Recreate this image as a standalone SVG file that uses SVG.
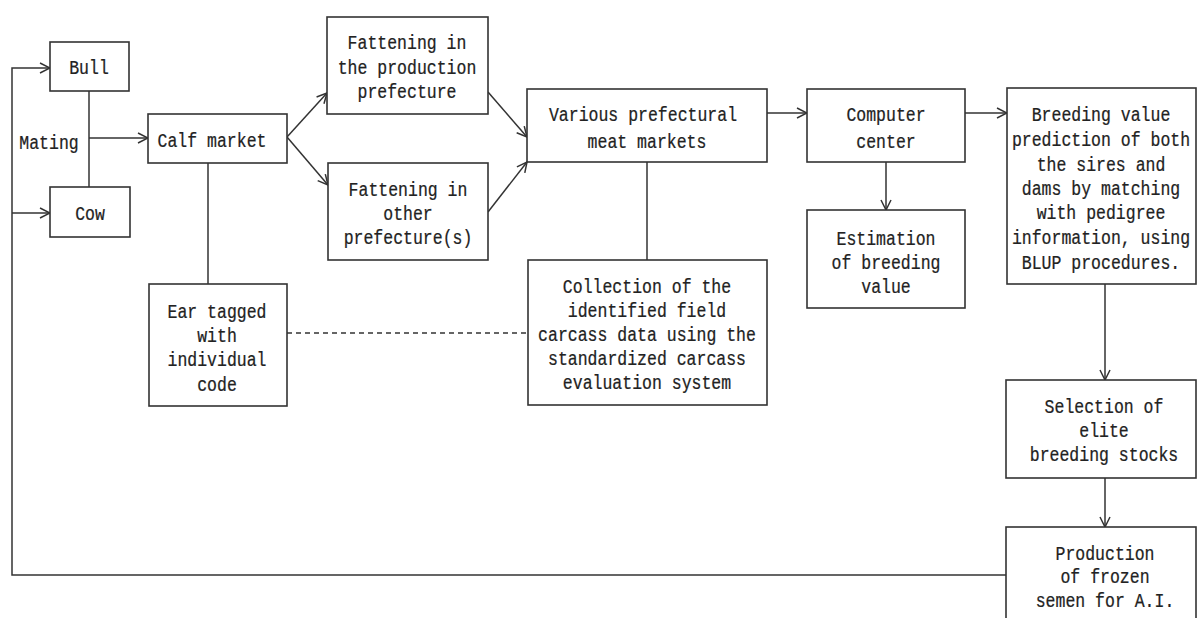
<svg xmlns="http://www.w3.org/2000/svg" width="1197" height="618" viewBox="0 0 1197 618">
<style>
.box{fill:#fff;stroke:#333;stroke-width:1.6}
.c{fill:none;stroke:#333;stroke-width:1.5}
text{font-family:"Liberation Mono","DejaVu Sans Mono",monospace;font-size:16.5px;fill:#222;stroke:#222;stroke-width:0.2;text-anchor:middle;transform-box:fill-box;transform-origin:center;transform:scaleY(1.2)}
</style>
<defs>
<marker id="ah" viewBox="0 0 12 12" refX="11" refY="6" markerWidth="12" markerHeight="12" markerUnits="userSpaceOnUse" orient="auto">
<path d="M1,1 L11,6 L1,11" fill="none" stroke="#333" stroke-width="1.5"/>
</marker>
</defs>
<rect width="1197" height="618" fill="#fff"/>
<g id="connectors">
<path class="c" d="M1006,575 H12 V68 H50" marker-end="url(#ah)"/>
<path class="c" d="M12,213 H50" marker-end="url(#ah)"/>
<path class="c" d="M89,91 V187"/>
<path class="c" d="M89,138 H148" marker-end="url(#ah)"/>
<path class="c" d="M208,163 V284"/>
<path class="c" d="M287,137 L327,93" marker-end="url(#ah)"/>
<path class="c" d="M287,137 L328,185" marker-end="url(#ah)"/>
<path class="c" d="M488,92 L527,137" marker-end="url(#ah)"/>
<path class="c" d="M488,212 L527,162" marker-end="url(#ah)"/>
<path class="c" d="M647,162 V260"/>
<path class="c" d="M287,333 H528" stroke-dasharray="5,4"/>
<path class="c" d="M767,113 H807" marker-end="url(#ah)"/>
<path class="c" d="M886,162 V210" marker-end="url(#ah)"/>
<path class="c" d="M965,113 H1007" marker-end="url(#ah)"/>
<path class="c" d="M1105,284 V380" marker-end="url(#ah)"/>
<path class="c" d="M1105,478 V527" marker-end="url(#ah)"/>
</g>
<g id="mating"><text x="49" y="148">Mating</text></g>
<g id="bull"><rect class="box" x="50" y="42" width="79" height="49"/><text x="89" y="73">Bull</text></g>
<g id="cow"><rect class="box" x="50" y="187" width="80" height="50"/><text x="90" y="219">Cow</text></g>
<g id="calf"><rect class="box" x="148" y="114" width="139" height="49"/><text x="212" y="146">Calf market</text></g>
<g id="ear"><rect class="box" x="149" y="284" width="138" height="122"/>
<text x="217" y="317">Ear tagged</text><text x="217" y="341">with</text><text x="217" y="365">individual</text><text x="217" y="390">code</text></g>
<g id="fatten1"><rect class="box" x="327" y="17" width="161" height="97"/>
<text x="407" y="48">Fattening in</text><text x="407" y="73">the production</text><text x="407" y="97">prefecture</text></g>
<g id="fatten2"><rect class="box" x="328" y="163" width="160" height="97"/>
<text x="408" y="195">Fattening in</text><text x="408" y="219">other</text><text x="408" y="243">prefecture(s)</text></g>
<g id="meat"><rect class="box" x="527" y="89" width="240" height="73"/>
<text x="643" y="120">Various prefectural</text><text x="647" y="147">meat markets</text></g>
<g id="collection"><rect class="box" x="528" y="260" width="239" height="145"/>
<text x="647" y="292">Collection of the</text><text x="647" y="316">identified field</text><text x="647" y="340">carcass data using the</text><text x="647" y="364">standardized carcass</text><text x="647" y="388">evaluation system</text></g>
<g id="computer"><rect class="box" x="807" y="89" width="158" height="73"/>
<text x="886" y="120">Computer</text><text x="886" y="147">center</text></g>
<g id="estimation"><rect class="box" x="807" y="210" width="158" height="98"/>
<text x="886" y="244">Estimation</text><text x="886" y="268">of breeding</text><text x="886" y="292">value</text></g>
<g id="blup"><rect class="box" x="1007" y="88" width="189" height="196"/>
<text x="1101" y="120">Breeding value</text><text x="1101" y="145">prediction of both</text><text x="1101" y="170">the sires and</text><text x="1101" y="194">dams by matching</text><text x="1101" y="218">with pedigree</text><text x="1101" y="243">information, using</text><text x="1101" y="268">BLUP procedures.</text></g>
<g id="selection"><rect class="box" x="1006" y="380" width="190" height="98"/>
<text x="1104" y="412">Selection of</text><text x="1104" y="436">elite</text><text x="1104" y="460">breeding stocks</text></g>
<g id="production"><rect class="box" x="1006" y="527" width="190" height="100"/>
<text x="1105" y="559">Production</text><text x="1105" y="582">of frozen</text><text x="1105" y="606">semen for A.I.</text></g>
</svg>
